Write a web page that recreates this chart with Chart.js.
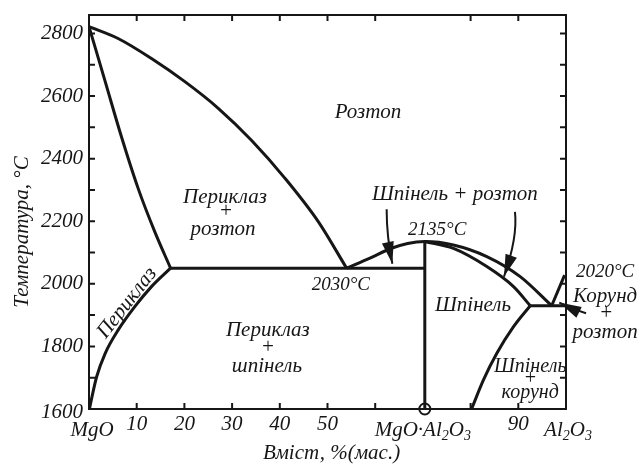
<!DOCTYPE html>
<html>
<head>
<meta charset="utf-8">
<script src="https://cdn.jsdelivr.net/npm/chart.js@4.4.1/dist/chart.umd.min.js"></script>
<style>
  html, body { margin: 0; padding: 0; background: #fff; }
  #phase-chart { display: block; }
</style>
</head>
<body>
<canvas id="phase-chart" width="640" height="469"></canvas>
<script>
// axis ranges and ticks
var xMin = 0, xMax = 100;
var yMin = 1600, yMax = 2859;
var xTickValues = [10, 20, 30, 40, 50, 60, 80, 90];
var yTickValues = [1700, 1800, 1900, 2000, 2100, 2200, 2300, 2400, 2500, 2600, 2700, 2800];
var yTickLabels = [1600, 1800, 2000, 2200, 2400, 2600, 2800];
var xNumberLabels = [10, 20, 30, 40, 50, 90];
var spinelX = 70.4;

// phase boundaries [wt% Al2O3, temperature]
var periclaseLiquidus = [[0, 2822], [6.1, 2784], [13.1, 2720], [20.1, 2646], [27.1, 2561], [34.1, 2458], [41.1, 2337], [48.1, 2198], [54.0, 2050]];
var periclaseSolidus = [[0, 2822], [3.4, 2646], [6.9, 2465], [10.3, 2305], [13.8, 2166], [17.1, 2050]];
var periclaseSolvus = [[17.1, 2050], [13.1, 1991], [9.6, 1927], [6.1, 1852], [3.4, 1778], [1.6, 1703], [0.5, 1630], [0.1, 1600]];
var eutecticLine = [[17.1, 2050], [spinelX, 2050]];
var spinelLiquidus = [[54.0, 2050], [58.9, 2082], [63.1, 2112], [66.8, 2129], [70.4, 2135], [76.4, 2124], [83.4, 2087], [90.4, 2023], [97.0, 1930]];
var spinelSolidus = [[70.4, 2135], [76.4, 2113], [83.4, 2055], [89.0, 1991], [92.5, 1930]];
var spinelLine = [[spinelX, 2135], [spinelX, 1600]];
var peritecticLine = [[92.5, 1930], [100, 1930]];
var corundumLiquidus = [[97.0, 1930], [99.7, 2028]];
var spinelSolvus = [[92.5, 1930], [89.0, 1863], [85.5, 1778], [82.7, 1693], [80.2, 1600]];

// arrows [start, control, tip] in data units
var arrows = [
  [[62.4, 2238], [62.4, 2150], [63.6, 2064]],
  [[89.3, 2230], [89.9, 2150], [87.0, 2023]],
  [[104.2, 1906], [101, 1922], [98.6, 1940]]
];

// region texts [text, x, y, size, angle]
var regionTexts = [
  ['Розтоп', 58.5, 2549, 21, 0],
  ['Периклаз', 28.5, 2277, 21, 0],
  ['+', 28.7, 2232, 21, 0],
  ['розтоп', 28.1, 2174, 21, 0],
  ['Периклаз', 8.0, 1939, 21, -52],
  ['Периклаз', 37.5, 1852, 21, 0],
  ['+', 37.5, 1797, 21, 0],
  ['шпінель', 37.3, 1736, 21, 0],
  ['2030°C', 52.8, 1996, 19, 0],
  ['2135°C', 73.0, 2172, 19, 0],
  ['Шпінель + розтоп', 76.7, 2284, 21, 0],
  ['Шпінель', 80.5, 1932, 21, 0],
  ['Шпінель', 92.5, 1734, 20, 0],
  ['+', 92.5, 1698, 20, 0],
  ['корунд', 92.5, 1652, 20, 0],
  ['2020°C', 108.2, 2038, 19, 0],
  ['Корунд', 108.2, 1958, 21, 0],
  ['+', 108.4, 1906, 21, 0],
  ['розтоп', 108.2, 1843, 21, 0]
];

var serif = '"Liberation Serif", "DejaVu Serif", serif';

function pts(arr) {
  return arr.map(function (p) { return { x: p[0], y: p[1] }; });
}

function line(arr, smooth) {
  return {
    data: pts(arr),
    showLine: true,
    borderColor: '#161616',
    borderWidth: 3,
    pointRadius: 0,
    cubicInterpolationMode: smooth ? 'monotone' : 'default',
    tension: 0,
    fill: false
  };
}

function drawRich(ctx, parts, x, y, size) {
  var w = 0;
  parts.forEach(function (p) {
    ctx.font = 'italic ' + (p[1] ? Math.round(size * 0.65) : size) + 'px ' + serif;
    w += ctx.measureText(p[0]).width;
  });
  var cx = x - w / 2;
  ctx.textAlign = 'left';
  parts.forEach(function (p) {
    ctx.font = 'italic ' + (p[1] ? Math.round(size * 0.65) : size) + 'px ' + serif;
    ctx.fillText(p[0], cx, p[1] ? y + size * 0.28 : y);
    cx += ctx.measureText(p[0]).width;
  });
}

var decorPlugin = {
  id: 'decor',
  afterDatasetsDraw: function (chart) {
    var ctx = chart.ctx, a = chart.chartArea;
    var sx = chart.scales.x, sy = chart.scales.y;
    ctx.save();
    ctx.strokeStyle = '#161616';
    ctx.fillStyle = '#161616';

    // frame
    ctx.lineWidth = 2;
    ctx.strokeRect(a.left, a.top, a.right - a.left, a.bottom - a.top);

    // inward ticks
    ctx.beginPath();
    xTickValues.forEach(function (v) {
      var px = sx.getPixelForValue(v);
      ctx.moveTo(px, a.bottom); ctx.lineTo(px, a.bottom - 6);
      ctx.moveTo(px, a.top); ctx.lineTo(px, a.top + 6);
    });
    yTickValues.forEach(function (v) {
      var py = sy.getPixelForValue(v);
      ctx.moveTo(a.left, py); ctx.lineTo(a.left + 6, py);
      ctx.moveTo(a.right, py); ctx.lineTo(a.right - 6, py);
    });
    ctx.stroke();

    // y tick labels
    ctx.font = 'italic 21px ' + serif;
    ctx.textAlign = 'right';
    ctx.textBaseline = 'middle';
    yTickLabels.forEach(function (v) {
      ctx.fillText(String(v), a.left - 6, sy.getPixelForValue(v) + (v === 1600 ? 3 : 0));
    });

    // x tick labels
    ctx.textAlign = 'center';
    var ly = a.bottom + 15;
    xNumberLabels.forEach(function (v) {
      ctx.fillText(String(v), sx.getPixelForValue(v), ly);
    });
    drawRich(ctx, [['MgO', false]], sx.getPixelForValue(0) + 3, ly + 6, 21);
    drawRich(ctx, [['MgO·Al', false], ['2', true], ['O', false], ['3', true]], sx.getPixelForValue(spinelX) - 2, ly + 6, 21);
    drawRich(ctx, [['Al', false], ['2', true], ['O', false], ['3', true]], sx.getPixelForValue(100) + 2, ly + 6, 21);

    // axis titles
    ctx.textAlign = 'center';
    ctx.font = 'italic 21px ' + serif;
    ctx.fillText('Вміст, %(мас.)', (a.left + a.right) / 2 + 4, a.bottom + 44);
    ctx.save();
    ctx.translate(22, (a.top + a.bottom) / 2 + 20);
    ctx.rotate(-Math.PI / 2);
    ctx.fillText('Температура, °C', 0, 0);
    ctx.restore();

    // region texts
    regionTexts.forEach(function (t) {
      var px = sx.getPixelForValue(t[1]), py = sy.getPixelForValue(t[2]);
      ctx.save();
      ctx.translate(px, py);
      ctx.rotate(t[4] * Math.PI / 180);
      ctx.font = 'italic ' + t[3] + 'px ' + serif;
      ctx.textAlign = 'center';
      ctx.textBaseline = 'middle';
      ctx.fillText(t[0], 0, 0);
      ctx.restore();
    });

    // arrows
    arrows.forEach(function (ar) {
      var p0 = [sx.getPixelForValue(ar[0][0]), sy.getPixelForValue(ar[0][1])];
      var p1 = [sx.getPixelForValue(ar[1][0]), sy.getPixelForValue(ar[1][1])];
      var p2 = [sx.getPixelForValue(ar[2][0]), sy.getPixelForValue(ar[2][1])];
      ctx.lineWidth = 2;
      ctx.beginPath();
      ctx.moveTo(p0[0], p0[1]);
      ctx.quadraticCurveTo(p1[0], p1[1], p2[0], p2[1]);
      ctx.stroke();
      var ang = Math.atan2(p2[1] - p1[1], p2[0] - p1[0]);
      var len = 22, half = 6;
      ctx.beginPath();
      ctx.moveTo(p2[0], p2[1]);
      ctx.lineTo(p2[0] - len * Math.cos(ang) + half * Math.sin(ang), p2[1] - len * Math.sin(ang) - half * Math.cos(ang));
      ctx.lineTo(p2[0] - len * Math.cos(ang) - half * Math.sin(ang), p2[1] - len * Math.sin(ang) + half * Math.cos(ang));
      ctx.closePath();
      ctx.fill();
    });

    ctx.restore();
  }
};

var spinelMark = {
  data: [{ x: spinelX, y: 1600 }],
  showLine: false,
  pointRadius: 5.5,
  pointBackgroundColor: '#ffffff',
  pointBorderColor: '#161616',
  pointBorderWidth: 2,
  clip: false
};

var canvas = document.getElementById('phase-chart');
var ctx = canvas.getContext('2d');
var chart = new Chart(ctx, {
  type: 'scatter',
  data: {
    datasets: [
      line(periclaseLiquidus, true),
      line(periclaseSolidus, true),
      line(periclaseSolvus, true),
      line(eutecticLine, false),
      line(spinelLiquidus, true),
      line(spinelSolidus, true),
      line(spinelLine, false),
      line(peritecticLine, false),
      line(corundumLiquidus, false),
      line(spinelSolvus, true),
      spinelMark
    ]
  },
  options: {
    responsive: false,
    animation: false,
    layout: { padding: { left: 89, right: 74, top: 15, bottom: 60 } },
    plugins: { legend: { display: false }, tooltip: { enabled: false } },
    scales: {
      x: { type: 'linear', min: xMin, max: xMax, display: false },
      y: { type: 'linear', min: yMin, max: yMax, display: false }
    }
  },
  plugins: [decorPlugin]
});
</script>
</body>
</html>
